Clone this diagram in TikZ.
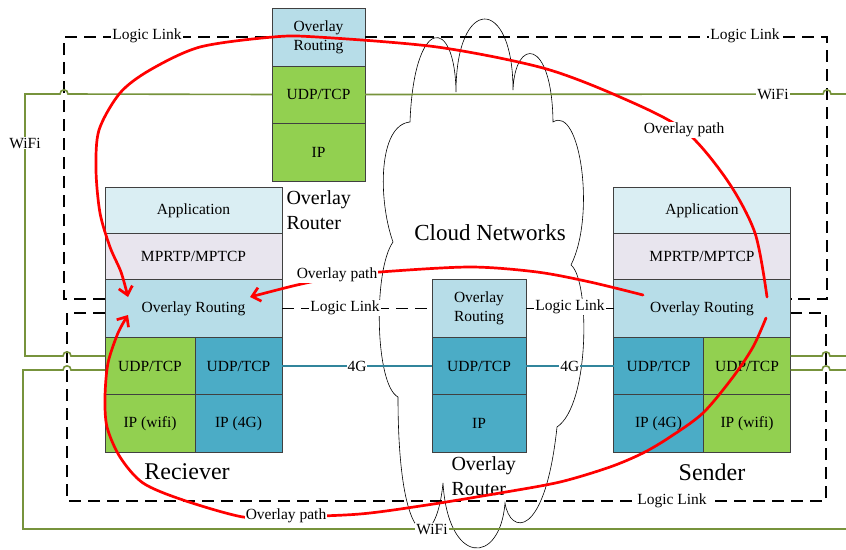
\documentclass[tikz,border=0pt]{standalone}
\usepackage{fontspec}
\setmainfont{Liberation Serif}
\usetikzlibrary{arrows.meta}
\usetikzlibrary{positioning}

\definecolor{orblue}{HTML}{B7DDE8}
\definecolor{appblue}{HTML}{DAEEF3}
\definecolor{mplilac}{HTML}{E8E5EE}
\definecolor{wgreen}{HTML}{92D050}
\definecolor{lteal}{HTML}{4BACC6}
\definecolor{wline}{HTML}{77933C}
\definecolor{gline}{HTML}{31859C}

\begin{document}
\begin{tikzpicture}
	[x=1pt,y=-1pt,
	every node/.style={font=\fontsize{15.5}{19}\selectfont},
	layer/.style={draw=black!75,line width=0.8pt,inner sep=0pt,outer sep=0pt,minimum width=177pt,minimum height=58pt,align=center},
	logic/.style={black,line width=1.6pt,dash pattern=on 12pt off 7pt},
	wifi/.style={wline,line width=1.6pt},
	fourg/.style={gline,line width=1.3pt},
	cloudline/.style={black,line width=0.6pt},
	ovpath/.style={red,line width=2.7pt,line cap=round,line join=round,-{Straight Barb[length=8pt,width=14pt]}},
	lbl/.style={fill=white,text=black,inner sep=1pt},
	bigname/.style={font=\fontsize{24}{28}\selectfont},
	rname/.style={font=\fontsize{20}{25}\selectfont,align=left,anchor=west}]
	\useasboundingbox (0,0) rectangle (846,549);

	% cloud
	\draw[cloudline] (410,122) .. controls (414,15) and (455,15) .. (456,92)
		.. controls (456,-5) and (513,-5) .. (513,90)
		.. controls (515,37) and (552,37) .. (553,122)
		.. controls (580,105) and (596,215) .. (571,265)
		.. controls (590,280) and (590,405) .. (557,427)
		.. controls (545,540) and (510,535) .. (505,503)
		.. controls (500,566) and (448,566) .. (443,483)
		.. controls (436,556) and (398,556) .. (398,397)
		.. controls (375,385) and (373,270) .. (393,242)
		.. controls (378,200) and (378,125) .. (410,122);
	\node[font=\fontsize{23}{28}\selectfont] (cName) at (490,233) {Cloud Networks};

	% receiver
	\node[layer,fill=appblue,minimum height=46pt] (rApp) at (193.5,210.5) {Application};
	\node[layer,fill=mplilac,minimum height=46pt,below=0pt of rApp] (rMP) {MPRTP/MPTCP};
	\node[layer,fill=orblue,below=0pt of rMP] (rOR) {Overlay Routing};
	\node[layer,fill=wgreen,minimum width=90pt,minimum height=57pt,anchor=north west] (rUw) at (rOR.south west) {UDP/TCP};
	\node[layer,fill=lteal,minimum width=87pt,minimum height=57pt,anchor=north east] (rU4) at (rOR.south east) {UDP/TCP};
	\node[layer,fill=wgreen,minimum width=90pt,below=0pt of rUw] (rIw) {IP (wifi)};
	\node[layer,fill=lteal,minimum width=87pt,below=0pt of rU4] (rI4) {IP (4G)};
	\node[bigname] (rName) at (187,472) {Reciever};

	% sender
	\node[layer,fill=appblue,minimum height=46pt] (sApp) at (702,210.5) {Application};
	\node[layer,fill=mplilac,minimum height=46pt,below=0pt of sApp] (sMP) {MPRTP/MPTCP};
	\node[layer,fill=orblue,below=0pt of sMP] (sOR) {Overlay Routing};
	\node[layer,fill=lteal,minimum width=90pt,minimum height=57pt,anchor=north west] (sU4) at (sOR.south west) {UDP/TCP};
	\node[layer,fill=wgreen,minimum width=87pt,minimum height=57pt,anchor=north east] (sUw) at (sOR.south east) {UDP/TCP};
	\node[layer,fill=lteal,minimum width=90pt,below=0pt of sU4] (sI4) {IP (4G)};
	\node[layer,fill=wgreen,minimum width=87pt,below=0pt of sUw] (sIw) {IP (wifi)};
	\node[bigname] (sName) at (712,472) {Sender};

	% overlay routers
	\node[layer,fill=orblue,minimum width=93pt] (tOR) at (318.5,37) {Overlay\\Routing};
	\node[layer,fill=wgreen,minimum width=93pt,minimum height=57pt,below=0pt of tOR] (tU) {UDP/TCP};
	\node[layer,fill=wgreen,minimum width=93pt,below=0pt of tU] (tI) {IP};
	\node[rname] (tName) at (283,210) {Overlay\\Router};

	\node[layer,fill=orblue,minimum width=94pt] (mOR) at (479,308.5) {Overlay\\Routing};
	\node[layer,fill=lteal,minimum width=94pt,minimum height=57pt,below=0pt of mOR] (mU) {UDP/TCP};
	\node[layer,fill=lteal,minimum width=94pt,below=0pt of mU] (mI) {IP};
	\node[rname] (mName) at (448,476) {Overlay\\Router};

	% logic links
	\draw[logic] ([yshift=9.5pt]rOR.west) -- (64,299) -- (64,37) -- (tOR.west);
	\draw[logic] (tOR.east) -- (827,37) -- (827,299) -- ([yshift=9.5pt]sOR.east);
	\draw[logic] ([yshift=-4.5pt]rOR.west) -- (67,313) -- (67,501) -- (826,501) -- (826,313) -- ([yshift=-4.5pt]sOR.east);
	\draw[logic] (rOR.east) -- (mOR.west);
	\draw[logic] (mOR.east) -- (sOR.west);
	\node[lbl] (ll1) at (147,36) {Logic Link};
	\node[lbl] (ll2) at (745,36) {Logic Link};
	\node[lbl] (ll3) at (345,308) {Logic Link};
	\node[lbl] (ll4) at (570,307) {Logic Link};
	\node[lbl] (ll5) at (672,501) {Logic Link};

	% wifi and 4G
	\coordinate (wE1) at (846,94);
	\coordinate (wE2) at (846,356);
	\coordinate (wE3) at (846,370);
	\coordinate (wE4) at (846,529);
	\draw[wifi] ([yshift=10pt]rUw.west) -- (71,356) .. controls (71,350.5) and (63,350.5) .. (63,356)
		-- (25,356) -- (25,94) -- (60,94) .. controls (60,88.5) and (68,88.5) .. (68,94) -- (tU.west);
	\draw[wifi] ([yshift=-4pt]rUw.west) -- (71,370) .. controls (71,364.5) and (63,364.5) .. (63,370)
		-- (23,370) -- (23,529) -- (wE4);
	\draw[wifi] (tU.east) -- (823,94) .. controls (823,88.5) and (831,88.5) .. (831,94) -- (wE1);
	\draw[wifi] ([yshift=10pt]sUw.east) -- (822,356) .. controls (822,350.5) and (830,350.5) .. (830,356) -- (wE2);
	\draw[wifi] ([yshift=-4pt]sUw.east) -- (822,370) .. controls (822,364.5) and (830,364.5) .. (830,370) -- (wE3);
	\node[lbl] (wl1) at (25,143) {WiFi};
	\node[lbl] (wl2) at (773,94) {WiFi};
	\node[lbl] (wl3) at (432,529) {WiFi};
	\draw[fourg] (rU4.east) -- (mU.west) node[lbl,midway] (g1) {4G};
	\draw[fourg] (mU.east) -- (sU4.west) node[lbl,midway] (g2) {4G};

	% overlay paths
	\coordinate (sP1) at (767,297);
	\coordinate (sP2) at (766,318);
	\coordinate (sP3) at (643,295);
	\coordinate (rP1) at (128,297);
	\coordinate (rP2) at (250,297);
	\coordinate (rP3) at (128,315);
	\draw[ovpath] plot[smooth] coordinates {(sP1) (755,233) (727,180) (684,130) (620,97) (543,68) (437,47)
		(317,37) (273,37) (200,47) (150,70) (120,93) (99,130) (96,170) (100,213) (110,247) (121,272) (rP1)};
	\draw[ovpath] plot[smooth] coordinates {(sP3) (590,282) (537,272) (470,267) (380,272) (337,277) (297,285) (rP2)};
	\draw[ovpath] plot[smooth] coordinates {(sP2) (753,347) (733,377) (703,413) (670,437) (643,453) (610,467)
		(560,482) (500,493) (427,505) (360,514) (286,517) (243,517) (183,500) (143,483) (120,457) (107,427)
		(105,397) (108,363) (118,333) (rP3)};
	\node[lbl] (op1) at (684,130) {Overlay path};
	\node[lbl] (op2) at (337,275) {Overlay path};
	\node[lbl] (op3) at (286,516) {Overlay path};
\end{tikzpicture}
\end{document}
